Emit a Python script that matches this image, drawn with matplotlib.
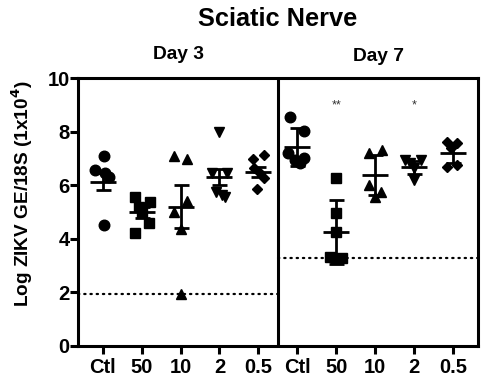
import matplotlib
matplotlib.use("Agg")
import matplotlib.pyplot as plt
import numpy as np

plt.rcParams['font.family'] = ['Liberation Sans', 'DejaVu Sans']
plt.rcParams['font.weight'] = 'bold'

# ---- data ----
tick_labels = ["Ctl", "50", "10", "2", "0.5", "Ctl", "50", "10", "2", "0.5"]
markers = ["o", "s", "^", "v", "D", "o", "s", "^", "v", "D"]

d3_ctl = [7.10, 6.57, 6.45, 6.30, 4.52]
d3_50 = [5.58, 5.39, 5.20, 5.02, 4.58, 4.23]
d3_10 = [7.10, 6.99, 5.43, 5.02, 4.36, 1.93]
d3_2 = [8.00, 6.45, 6.45, 5.76, 5.64, 5.58]
d3_05 = [7.13, 6.97, 6.64, 6.45, 6.26, 5.85]
d7_ctl = [8.57, 8.04, 7.20, 7.01, 6.95, 6.82]
d7_50 = [6.26, 4.96, 4.25, 3.34, 3.30, 3.25]
d7_10 = [7.20, 7.32, 6.01, 5.76, 5.58]
d7_2 = [6.95, 6.95, 6.64, 6.20, 6.84]
d7_05 = [7.63, 7.57, 7.39, 6.70, 6.76]

# horizontal scatter offsets (category units)
j3_ctl = [0.02, -0.20, 0.05, 0.15, 0.02]
j3_50 = [-0.18, 0.21, -0.07, 0.0, 0.19, -0.16]
j3_10 = [-0.17, 0.17, 0.17, -0.17, 0.0, 0.0]
j3_2 = [0.0, -0.19, 0.19, -0.10, 0.07, 0.13]
j3_05 = [0.15, -0.14, -0.11, 0.04, 0.15, -0.03]
j7_ctl = [-0.19, 0.16, -0.23, 0.16, -0.06, 0.07]
j7_50 = [0.0, 0.0, 0.0, -0.17, 0.14, 0.0]
j7_10 = [-0.16, 0.18, -0.16, 0.14, 0.0]
j7_2 = [-0.22, 0.17, 0.0, 0.0, -0.10]
j7_05 = [-0.14, 0.11, -0.06, -0.14, 0.11]

means = [6.14, 4.99, 5.20, 6.30, 6.51, 7.43, 4.26, 6.39, 6.67, 7.20]
errs = [0.31, 0.20, 0.80, 0.30, 0.19, 0.72, 1.20, 0.75, 0.25, 0.38]

lod_day3 = 1.93
lod_day7 = 3.30

sig_labels = ["", "", "", "", "", "", "**", "", "*", ""]
sig_y = 9.0

groups = [d3_ctl, d3_50, d3_10, d3_2, d3_05, d7_ctl, d7_50, d7_10, d7_2, d7_05]
jitters = [j3_ctl, j3_50, j3_10, j3_2, j3_05, j7_ctl, j7_50, j7_10, j7_2, j7_05]

# ---- figure ----
fig = plt.figure(figsize=(4.9, 3.87), dpi=100)
ax = fig.add_axes([0.1598, 0.106, 0.975 - 0.1598, 0.7977 - 0.106])

msize = {"o": 7.6, "s": 7.3, "^": 7.4, "v": 7.4, "D": 5.6}
xs = np.arange(len(groups))
for i, (vals, jit) in enumerate(zip(groups, jitters)):
    x = xs[i] + np.array(jit)
    ax.plot(x, vals, linestyle="none", marker=markers[i], markersize=msize[markers[i]],
            color="black", zorder=3)

ax.errorbar(xs, means, yerr=errs, fmt="_", markersize=19, mew=2.0, color="black",
            ecolor="black", elinewidth=2.0, capsize=5.4, capthick=2.0, zorder=4)

# limit-of-detection dotted lines
ax.plot([-0.63, 4.5], [lod_day3, lod_day3], linestyle=(0, (0.6, 2.2)), color="black",
        linewidth=1.6, dash_capstyle="round", zorder=2)
ax.plot([4.5, 9.64], [lod_day7, lod_day7], linestyle=(0, (0.6, 2.2)), color="black",
        linewidth=1.6, dash_capstyle="round", zorder=2)

# panel divider
ax.axvline(4.5, color="black", linewidth=2.2, zorder=5)

for i, s in enumerate(sig_labels):
    if s:
        ax.text(xs[i], sig_y, s, ha="center", va="center", fontsize=9,
                fontweight="normal", color="#333333")

ax.set_xlim(-0.63, 9.64)
ax.set_ylim(0, 10)
ax.set_yticks([0, 2, 4, 6, 8, 10])
ax.set_xticks(xs)
ax.set_xticklabels(tick_labels)
for sp in ax.spines.values():
    sp.set_linewidth(2.2)
ax.tick_params(axis="both", which="major", length=5.8, width=2.2, labelsize=14.5, pad=0.5)
ax.tick_params(axis="x", pad=3)
for lab in ax.get_xticklabels() + ax.get_yticklabels():
    lab.set_fontweight("bold")

fig.text(0.045, 0.499, r"Log ZIKV GE/18S (1x10$^{\mathbf{4}}$)", rotation=90,
         ha="center", va="center", fontsize=13.7, fontweight="bold")
fig.text(0.567, 0.951, "Sciatic Nerve", ha="center", va="center", fontsize=18.3,
         fontweight="bold")
fig.text(0.364, 0.860, "Day 3", ha="center", va="center", fontsize=13.8, fontweight="bold")
fig.text(0.772, 0.853, "Day 7", ha="center", va="center", fontsize=13.8, fontweight="bold")

fig.savefig("out.png", dpi=100)
